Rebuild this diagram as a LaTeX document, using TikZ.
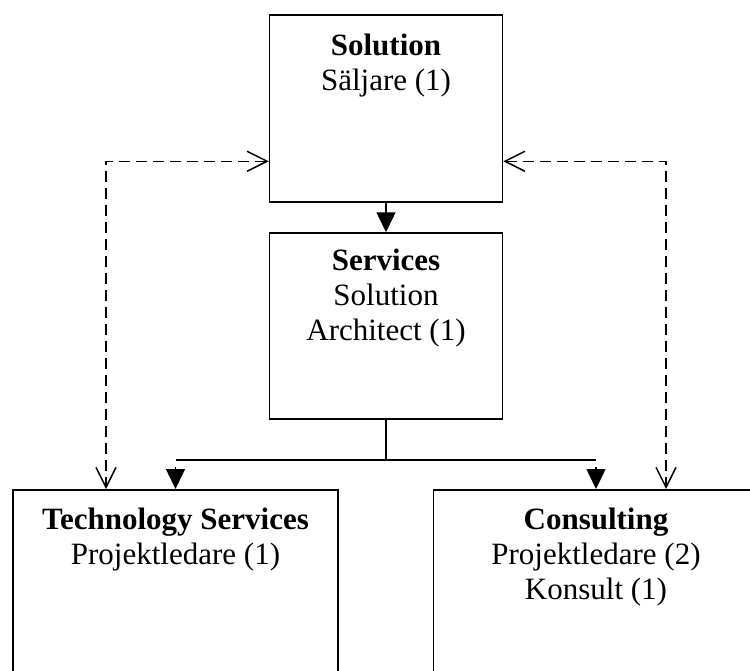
\documentclass[tikz,border=0pt]{standalone}
\usepackage{fontspec}
\setmainfont{Liberation Serif}
\usetikzlibrary{arrows.meta}

\begin{document}
\begin{tikzpicture}[x=1pt,y=-1pt,line width=1.5pt,
        unit/.style={draw,inner sep=0pt,minimum width=233pt},
        branch/.style={draw,inner sep=0pt,minimum width=325pt,minimum height=220pt,anchor=north},
        title/.style={font=\fontsize{31}{35}\selectfont,align=center,inner sep=0pt,anchor=north},
        link/.style={-{Triangle[length=20pt,width=19pt]}},
        peer/.style={dash pattern=on 11pt off 6pt,
          {Straight Barb[length=20pt,width=20pt]}-{Straight Barb[length=20pt,width=20pt]}}]
      \useasboundingbox (0,0) rectangle (750,670);
      \clip (0,0) rectangle (750,670);
      \node[unit,minimum height=187pt] (sol) at (386,108.5) {};
      \node[unit,minimum height=186pt] (serv) at (386,326) {};
      \node[branch] (tech) at (175.5,489) {};
      \node[branch] (cons) at (596,489) {};
      \node[title] (solt) at ([yshift=-18.8pt]sol.north) {\textbf{Solution}\\Säljare (1)};
      \node[title] (servt) at ([yshift=-16pt]serv.north) {\textbf{Services}\\Solution\\Architect (1)};
      \node[title] (techt) at ([yshift=-18.3pt]tech.north) {\textbf{Technology Services}\\Projektledare (1)};
      \node[title] (const) at ([yshift=-18.3pt]cons.north) {\textbf{Consulting}\\Projektledare (2)\\Konsult (1)};
      \draw[link] (sol) -- (serv);
      \draw (serv.south) -- ++(0,40) coordinate (fork);
      \draw (tech.north |- fork) -- (cons.north |- fork);
      \foreach \n in {tech,cons}
        \draw[link] ([yshift=-7pt]\n.north |- fork) -- (\n.north);
      \draw[peer] ([yshift=-147pt]sol.north west) -| ([xshift=-69.5pt]tech.north);
      \draw[peer] ([yshift=-147pt]sol.north east) -| ([xshift=70pt]cons.north);
    \end{tikzpicture}
\end{document}
